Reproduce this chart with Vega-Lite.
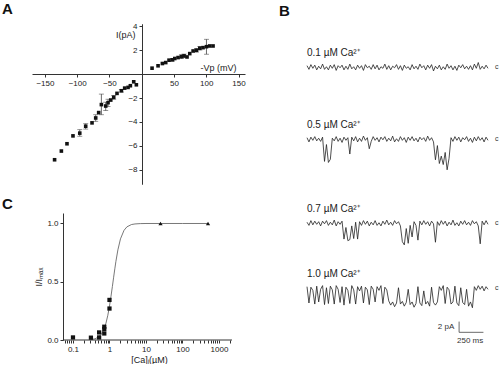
{
  "$schema": "https://vega.github.io/schema/vega-lite/v6.json",
  "padding": {"left": 2, "top": 2, "right": 0, "bottom": 0},
  "background": "white",
  "config": {
    "font": "Liberation Sans",
    "view": {"stroke": null},
    "axis": {"grid": false, "domainColor": "#333", "tickColor": "#333", "labelColor": "#222", "labelFontSize": 8, "titleFontSize": 9, "titleFontWeight": "normal", "titleColor": "#222", "tickSize": 3, "labelPadding": 2, "labelOverlap": false, "labelFlush": false},
    "title": {"fontSize": 15, "fontWeight": "bold", "anchor": "start", "color": "#111", "frame": "group"}
  },
  "datasets": {
    "iv": [
      {"v": -135, "i": -7.17}, {"v": -124.5, "i": -6.44}, {"v": -115.8, "i": -5.83}, {"v": -106.5, "i": -5.17}, {"v": -96, "i": -4.94},
      {"v": -86.8, "i": -4.36}, {"v": -77, "i": -4.08}, {"v": -71.3, "i": -3.67}, {"v": -66.7, "i": -3.22}, {"v": -62.5, "i": -2.55},
      {"v": -55.8, "i": -2.67}, {"v": -52.2, "i": -2.39}, {"v": -48, "i": -2.17}, {"v": -43.4, "i": -1.94}, {"v": -38.3, "i": -1.61},
      {"v": -31.5, "i": -1.39}, {"v": -26.4, "i": -1.17}, {"v": -21.2, "i": -1.11}, {"v": -17.6, "i": -0.97}, {"v": -12.4, "i": -0.64},
      {"v": -8.3, "i": -0.89},
      {"v": 16, "i": 0.5}, {"v": 25.3, "i": 0.7}, {"v": 32, "i": 0.89}, {"v": 37.2, "i": 0.97}, {"v": 42.3, "i": 1.17},
      {"v": 47.5, "i": 1.2}, {"v": 51.2, "i": 1.31}, {"v": 56.3, "i": 1.39}, {"v": 61.5, "i": 1.47}, {"v": 65.6, "i": 1.53},
      {"v": 70.2, "i": 1.44}, {"v": 74.4, "i": 1.72}, {"v": 79.6, "i": 1.94}, {"v": 84.8, "i": 2.0}, {"v": 90, "i": 2.17},
      {"v": 95, "i": 2.22}, {"v": 100.3, "i": 2.3}, {"v": 105.4, "i": 2.36}, {"v": 110.5, "i": 2.36}
    ],
    "iv_err": [
      {"v": -96, "lo": -5.2, "hi": -4.65}, {"v": -86.8, "lo": -4.6, "hi": -4.15}, {"v": -71.3, "lo": -3.95, "hi": -3.4},
      {"v": -62.5, "lo": -3.4, "hi": -1.67}, {"v": -55.8, "lo": -3.05, "hi": -2.35}, {"v": -52.2, "lo": -2.7, "hi": -2.1},
      {"v": -43.4, "lo": -2.1, "hi": -1.78}, {"v": -31.5, "lo": -1.5, "hi": -1.28},
      {"v": 47.5, "lo": 1.1, "hi": 1.3}, {"v": 61.5, "lo": 1.3, "hi": 1.62}, {"v": 65.6, "lo": 1.38, "hi": 1.68},
      {"v": 84.8, "lo": 1.85, "hi": 2.15}, {"v": 90, "lo": 2.02, "hi": 2.32}, {"v": 100.3, "lo": 1.67, "hi": 2.92}
    ],
    "fit": [
      {"ca": 0.3, "f": 0.003}, {"ca": 0.4, "f": 0.010}, {"ca": 0.5, "f": 0.025}, {"ca": 0.6, "f": 0.050}, {"ca": 0.7, "f": 0.090},
      {"ca": 0.8, "f": 0.144}, {"ca": 0.9, "f": 0.212}, {"ca": 1.0, "f": 0.291}, {"ca": 1.1, "f": 0.375}, {"ca": 1.2, "f": 0.459},
      {"ca": 1.3, "f": 0.539}, {"ca": 1.4, "f": 0.611}, {"ca": 1.5, "f": 0.675}, {"ca": 1.7, "f": 0.774}, {"ca": 2.0, "f": 0.868},
      {"ca": 2.5, "f": 0.941}, {"ca": 3, "f": 0.971}, {"ca": 4, "f": 0.991}, {"ca": 5, "f": 0.996}, {"ca": 7, "f": 0.999},
      {"ca": 10, "f": 1.0}, {"ca": 25, "f": 1.0}, {"ca": 100, "f": 1.0}, {"ca": 500, "f": 1.0}
    ],
    "doseresp": [
      {"ca": 0.1, "f": 0.022, "group": "titration"}, {"ca": 0.31, "f": 0.02, "group": "titration"},
      {"ca": 0.52, "f": 0.065, "group": "titration"}, {"ca": 0.52, "f": 0.022, "group": "titration"},
      {"ca": 0.72, "f": 0.114, "group": "titration"}, {"ca": 0.72, "f": 0.094, "group": "titration"}, {"ca": 0.72, "f": 0.056, "group": "titration"},
      {"ca": 1.0, "f": 0.344, "group": "titration"}, {"ca": 1.0, "f": 0.27, "group": "titration"},
      {"ca": 25, "f": 1.0, "group": "saturating"}, {"ca": 500, "f": 1.0, "group": "saturating"}
    ],
    "tr01": [
      {"t":0,"i":0.3},{"t":20,"i":-0.4},{"t":40,"i":0.5},{"t":60,"i":-0.2},{"t":80,"i":0.4},{"t":100,"i":-0.5},{"t":120,"i":0.2},{"t":140,"i":-0.3},{"t":160,"i":0.6},{"t":180,"i":-0.4},
      {"t":200,"i":0.1},{"t":220,"i":-0.5},{"t":240,"i":0.4},{"t":260,"i":-0.2},{"t":280,"i":0.5},{"t":300,"i":-0.6},{"t":320,"i":0.3},{"t":340,"i":-0.1},{"t":360,"i":0.4},{"t":380,"i":-0.5},
      {"t":400,"i":0.2},{"t":420,"i":-0.4},{"t":440,"i":0.6},{"t":460,"i":-0.3},{"t":480,"i":0.1},{"t":500,"i":-0.5},{"t":520,"i":0.4},{"t":540,"i":-0.2},{"t":560,"i":0.3},{"t":580,"i":-0.6},
      {"t":600,"i":0.5},{"t":620,"i":-0.1},{"t":640,"i":0.2},{"t":660,"i":-0.4},{"t":680,"i":0.5},{"t":700,"i":-0.3},{"t":720,"i":0.4},{"t":740,"i":-0.5},{"t":760,"i":0.1},{"t":780,"i":-0.2},
      {"t":800,"i":0.6},{"t":820,"i":-0.4},{"t":840,"i":0.3},{"t":860,"i":-0.5},{"t":880,"i":0.2},{"t":900,"i":-0.1},{"t":920,"i":0.5},{"t":940,"i":-0.4},{"t":960,"i":0.3},{"t":980,"i":-0.6},
      {"t":1000,"i":0.4},{"t":1020,"i":-0.2},{"t":1040,"i":0.1},{"t":1060,"i":-0.5},{"t":1080,"i":0.5},{"t":1100,"i":-0.3},{"t":1120,"i":0.2},{"t":1140,"i":-0.4},{"t":1160,"i":0.6},{"t":1180,"i":-0.1},
      {"t":1200,"i":0.3},{"t":1220,"i":-0.5},{"t":1240,"i":0.4},{"t":1260,"i":-0.2},{"t":1280,"i":0.5},{"t":1300,"i":-0.7},{"t":1320,"i":0.2},{"t":1340,"i":-0.3},{"t":1360,"i":0.4},{"t":1380,"i":-0.5},
      {"t":1400,"i":0.1},{"t":1420,"i":-0.4},{"t":1440,"i":0.6},{"t":1460,"i":-0.2},{"t":1480,"i":0.3},{"t":1500,"i":-0.5},{"t":1520,"i":0.2},{"t":1540,"i":-0.6},{"t":1560,"i":0.4},{"t":1580,"i":-0.1},
      {"t":1600,"i":0.5},{"t":1620,"i":-0.3},{"t":1640,"i":0.2},{"t":1660,"i":-0.4},{"t":1680,"i":0.3},{"t":1700,"i":-0.5},{"t":1720,"i":0.6},{"t":1740,"i":-0.2},{"t":1760,"i":0.9},{"t":1780,"i":-0.4},
      {"t":1800,"i":0.2},{"t":1820,"i":-0.3},{"t":1840,"i":0.4},{"t":1860,"i":-0.2}
    ],
    "tr05": [
      {"t":0,"i":0.3},{"t":20,"i":-0.5},{"t":40,"i":0.4},{"t":60,"i":-0.2},{"t":80,"i":0.5},{"t":100,"i":-0.3},{"t":120,"i":0.2},{"t":140,"i":-0.4},{"t":160,"i":0.4},
      {"t":180,"i":-4.2},{"t":200,"i":-1.0},{"t":220,"i":-4.4},{"t":240,"i":-3.8},{"t":260,"i":0.2},
      {"t":280,"i":-0.3},{"t":300,"i":0.5},{"t":320,"i":-0.4},{"t":340,"i":0.2},{"t":360,"i":-0.6},{"t":380,"i":0.4},{"t":400,"i":-0.2},{"t":420,"i":0.3},
      {"t":440,"i":-2.8},
      {"t":460,"i":0.4},{"t":480,"i":-0.3},{"t":500,"i":0.5},{"t":520,"i":-0.5},{"t":540,"i":0.2},{"t":560,"i":-0.4},{"t":580,"i":0.6},{"t":600,"i":-0.2},{"t":620,"i":0.3},
      {"t":640,"i":-1.8},
      {"t":660,"i":-0.4},{"t":680,"i":0.5},{"t":700,"i":-0.2},{"t":720,"i":0.3},{"t":740,"i":-0.5},{"t":760,"i":0.4},{"t":780,"i":-0.1},{"t":800,"i":0.5},{"t":820,"i":-0.4},{"t":840,"i":0.2},
      {"t":860,"i":-0.3},{"t":880,"i":0.6},{"t":900,"i":-0.5},{"t":920,"i":0.1},{"t":940,"i":-0.4},{"t":960,"i":0.5},{"t":980,"i":-0.2},{"t":1000,"i":0.3},{"t":1020,"i":-0.6},{"t":1040,"i":0.4},
      {"t":1060,"i":-0.2},{"t":1080,"i":0.5},{"t":1100,"i":-0.3},{"t":1120,"i":0.2},{"t":1140,"i":-0.5},{"t":1160,"i":0.4},{"t":1180,"i":-0.1},{"t":1200,"i":0.3},{"t":1220,"i":-0.4},{"t":1240,"i":0.6},
      {"t":1260,"i":-0.2},{"t":1280,"i":0.3},
      {"t":1300,"i":-0.5},{"t":1320,"i":-3.9},{"t":1340,"i":-1.2},{"t":1360,"i":-4.6},{"t":1380,"i":-3.2},{"t":1400,"i":-4.8},{"t":1420,"i":-2.5},{"t":1440,"i":-5.8},{"t":1460,"i":-3.6},{"t":1480,"i":0.3},
      {"t":1500,"i":-0.4},{"t":1520,"i":0.5},{"t":1540,"i":-0.2},{"t":1560,"i":0.4},{"t":1580,"i":-0.5},{"t":1600,"i":0.3},{"t":1620,"i":-0.1},{"t":1640,"i":0.5},{"t":1660,"i":-0.4},{"t":1680,"i":0.2},
      {"t":1700,"i":-0.6},{"t":1720,"i":0.4},{"t":1740,"i":-0.3},{"t":1760,"i":0.5},{"t":1780,"i":-0.2},{"t":1800,"i":0.3},{"t":1820,"i":-0.5},{"t":1840,"i":0.4},{"t":1860,"i":-0.2}
    ],
    "tr07": [
      {"t":0,"i":0.2},{"t":20,"i":-0.4},{"t":40,"i":0.5},{"t":60,"i":-0.3},{"t":80,"i":0.4},{"t":100,"i":-0.2},{"t":120,"i":0.3},{"t":140,"i":-0.5},{"t":160,"i":0.4},{"t":180,"i":-0.1},
      {"t":200,"i":0.5},{"t":220,"i":-0.4},{"t":240,"i":0.2},{"t":260,"i":-0.3},{"t":280,"i":0.6},{"t":300,"i":-0.5},{"t":320,"i":0.3},{"t":340,"i":-0.2},{"t":360,"i":0.4},
      {"t":380,"i":-3.0},{"t":400,"i":-0.8},{"t":420,"i":-3.3},{"t":440,"i":-3.1},{"t":460,"i":-0.5},{"t":480,"i":-2.9},{"t":500,"i":0.2},{"t":520,"i":-3.0},
      {"t":540,"i":0.3},{"t":560,"i":-0.4},{"t":580,"i":0.5},{"t":600,"i":-0.2},{"t":620,"i":0.4},{"t":640,"i":-0.5},{"t":660,"i":0.2},{"t":680,"i":-0.3},{"t":700,"i":0.5},{"t":720,"i":-0.4},
      {"t":740,"i":0.1},{"t":760,"i":-0.5},{"t":780,"i":0.4},{"t":800,"i":-0.2},{"t":820,"i":0.6},{"t":840,"i":-0.3},{"t":860,"i":0.2},{"t":880,"i":-0.4},{"t":900,"i":0.5},{"t":920,"i":-0.1},
      {"t":940,"i":0.3},{"t":960,"i":-0.5},
      {"t":980,"i":-3.5},{"t":1000,"i":-4.1},{"t":1020,"i":-1.0},{"t":1040,"i":-3.8},{"t":1060,"i":-0.4},{"t":1080,"i":-2.6},{"t":1100,"i":0.3},{"t":1120,"i":-0.4},{"t":1140,"i":-3.2},
      {"t":1160,"i":0.4},{"t":1180,"i":-0.3},{"t":1200,"i":0.5},{"t":1220,"i":-0.2},{"t":1240,"i":0.3},{"t":1260,"i":-0.5},{"t":1280,"i":0.4},{"t":1300,"i":-0.1},
      {"t":1320,"i":-3.6},
      {"t":1340,"i":0.3},{"t":1360,"i":-0.4},{"t":1380,"i":0.5},{"t":1400,"i":-0.2},{"t":1420,"i":0.4},{"t":1440,"i":-0.5},{"t":1460,"i":0.2},{"t":1480,"i":-0.3},{"t":1500,"i":0.6},{"t":1520,"i":-0.4},
      {"t":1540,"i":0.1},{"t":1560,"i":-0.5},{"t":1580,"i":0.4},{"t":1600,"i":-0.2},{"t":1620,"i":0.5},{"t":1640,"i":-0.3},{"t":1660,"i":0.2},{"t":1680,"i":-0.4},{"t":1700,"i":0.5},{"t":1720,"i":-0.1},
      {"t":1740,"i":0.3},{"t":1760,"i":-0.5},
      {"t":1780,"i":-3.9},{"t":1800,"i":0.4},{"t":1820,"i":-0.3},{"t":1840,"i":0.5},{"t":1860,"i":-0.2}
    ],
    "tr10": [
      {"t":0,"i":0.3},{"t":20,"i":-2.8},{"t":40,"i":0.2},{"t":60,"i":-0.4},{"t":80,"i":-3.0},{"t":100,"i":0.4},{"t":120,"i":-2.6},{"t":140,"i":-0.2},{"t":160,"i":0.5},{"t":180,"i":-3.1},
      {"t":200,"i":0.1},{"t":220,"i":-2.9},{"t":240,"i":0.4},{"t":260,"i":-0.3},{"t":280,"i":-3.0},{"t":300,"i":0.5},{"t":320,"i":-0.2},{"t":340,"i":-2.7},{"t":360,"i":0.3},{"t":380,"i":-3.2},
      {"t":400,"i":0.2},{"t":420,"i":-0.4},{"t":440,"i":-2.9},{"t":460,"i":0.5},{"t":480,"i":-0.3},{"t":500,"i":-3.0},{"t":520,"i":0.3},{"t":540,"i":-0.5},{"t":560,"i":0.4},{"t":580,"i":-2.8},
      {"t":600,"i":0.2},{"t":620,"i":-0.3},{"t":640,"i":-3.1},{"t":660,"i":0.4},{"t":680,"i":-0.2},{"t":700,"i":-2.6},{"t":720,"i":0.3},{"t":740,"i":-0.4},{"t":760,"i":0.5},{"t":780,"i":-2.9},
      {"t":800,"i":0.2},{"t":820,"i":-0.3},{"t":840,"i":-2.4},{"t":860,"i":-3.2},{"t":880,"i":-2.6},{"t":900,"i":-3.5},{"t":920,"i":-2.8},{"t":940,"i":0.1},{"t":960,"i":-3.0},{"t":980,"i":-2.5},
      {"t":1000,"i":-3.4},{"t":1020,"i":-2.7},{"t":1040,"i":-0.2},{"t":1060,"i":-3.1},{"t":1080,"i":-2.6},{"t":1100,"i":-3.6},{"t":1120,"i":-2.9},{"t":1140,"i":0.3},{"t":1160,"i":-2.8},{"t":1180,"i":-3.3},
      {"t":1200,"i":-0.5},{"t":1220,"i":-3.0},{"t":1240,"i":-2.5},{"t":1260,"i":-3.4},{"t":1280,"i":0.2},{"t":1300,"i":-2.7},{"t":1320,"i":-3.2},{"t":1340,"i":-2.6},{"t":1360,"i":0.3},{"t":1380,"i":-0.4},
      {"t":1400,"i":0.5},{"t":1420,"i":-2.9},{"t":1440,"i":0.2},{"t":1460,"i":-0.3},{"t":1480,"i":-3.0},{"t":1500,"i":-2.6},{"t":1520,"i":0.4},{"t":1540,"i":-2.8},{"t":1560,"i":-3.3},{"t":1580,"i":0.1},
      {"t":1600,"i":-2.7},{"t":1620,"i":-3.1},{"t":1640,"i":-0.2},{"t":1660,"i":-3.4},{"t":1680,"i":-2.6},{"t":1700,"i":-3.7},{"t":1720,"i":0.3},{"t":1740,"i":-0.4},{"t":1760,"i":0.5},{"t":1780,"i":-0.2},
      {"t":1800,"i":0.4},{"t":1820,"i":-0.5},{"t":1840,"i":0.3},{"t":1860,"i":-0.2}
    ]
  },
  "spacing": 33,
  "hconcat": [
    {
      "spacing": 13,
      "vconcat": [
        {
          "width": 213, "height": 160,
          "title": {"text": "A", "dx": -30, "offset": 5},
          "resolve": {"axis": {"y": "independent"}},
          "layer": [
            {"data": {"name": "iv_err"}, "mark": {"type": "rule", "color": "#444", "strokeWidth": 0.8},
             "encoding": {"x": {"field": "v", "type": "quantitative", "scale": {"domain": [-170, 160], "nice": false, "zero": false}},
                          "y": {"field": "lo", "type": "quantitative", "scale": {"domain": [-9.2, 4.2], "nice": false, "zero": false},
                                "axis": {"orient": "left", "offset": -110, "values": [-6, -2, 2], "labelOverlap": false, "title": null}},
                          "y2": {"field": "hi"}}},
            {"data": {"name": "iv_err"}, "mark": {"type": "tick", "orient": "horizontal", "color": "#444", "size": 5, "thickness": 0.8},
             "encoding": {"x": {"field": "v", "type": "quantitative", "scale": {"domain": [-170, 160], "nice": false, "zero": false}},
                          "y": {"field": "lo", "type": "quantitative", "scale": {"domain": [-9.2, 4.2], "nice": false, "zero": false}, "axis": null}}},
            {"data": {"name": "iv_err"}, "mark": {"type": "tick", "orient": "horizontal", "color": "#444", "size": 5, "thickness": 0.8},
             "encoding": {"x": {"field": "v", "type": "quantitative", "scale": {"domain": [-170, 160], "nice": false, "zero": false}},
                          "y": {"field": "hi", "type": "quantitative", "scale": {"domain": [-9.2, 4.2], "nice": false, "zero": false}, "axis": null}}},
            {"data": {"name": "iv"}, "mark": {"type": "square", "color": "#111", "size": 13, "opacity": 1},
             "encoding": {
               "x": {"field": "v", "type": "quantitative", "scale": {"domain": [-170, 160], "nice": false, "zero": false},
                     "axis": {"offset": -110, "values": [-150, -100, -50, 50, 100, 150], "labelOverlap": false,
                              "title": "-Vp (mV)", "titleX": 186, "titleY": -7, "titleAlign": "center", "titleBaseline": "middle"}},
               "y": {"field": "i", "type": "quantitative", "scale": {"domain": [-9.2, 4.2], "nice": false, "zero": false},
                     "axis": {"orient": "left", "offset": -110, "values": [-8, -4, 4], "labelOverlap": false,
                              "title": "I(pA)", "titleAngle": 0, "titleX": -7, "titleY": 10, "titleAlign": "right", "titleBaseline": "middle"}}
             }}
          ]
        },
        {
          "width": 200, "height": 127,
          "title": {"text": "C", "dx": -30, "offset": 1},
          "layer": [
            {"data": {"values": [{"ca": 0.053, "ca_end": 2270, "f": 0}]}, "mark": {"type": "rule", "color": "#333", "strokeWidth": 1},
             "encoding": {
               "x": {"field": "ca", "type": "quantitative", "scale": {"type": "log", "domain": [0.00754, 2270], "nice": false}},
               "x2": {"field": "ca_end"},
               "y": {"field": "f", "type": "quantitative", "scale": {"domain": [0, 1.09], "nice": false, "zero": false}}
             }},
            {"data": {"name": "fit"}, "mark": {"type": "line", "color": "#555", "strokeWidth": 0.8},
             "encoding": {
               "x": {"field": "ca", "type": "quantitative", "scale": {"type": "log", "domain": [0.00754, 2270], "nice": false},
                     "axis": {"domain": false, "values": [0.06, 0.07, 0.08, 0.09, 0.1, 0.2, 0.3, 0.4, 0.5, 0.6, 0.7, 0.8, 0.9, 1, 2, 3, 4, 5, 6, 7, 8, 9, 10, 20, 30, 40, 50, 60, 70, 80, 90, 100, 200, 300, 400, 500, 600, 700, 800, 900, 1000, 2000],
                              "format": "~g", "labelOverlap": false,
                              "labelExpr": "datum.value == 0.1 || datum.value == 1 || datum.value == 10 || datum.value == 100 || datum.value == 1000 ? datum.label : ''",
                              "title": "[Ca]ᵢ(µM)", "titlePadding": 2, "titleX": 117, "titleAlign": "center"}},
               "y": {"field": "f", "type": "quantitative", "scale": {"domain": [0, 1.09], "nice": false, "zero": false},
                     "axis": {"offset": -31, "values": [0, 0.25, 0.5, 0.75, 1], "format": ".1f", "labelOverlap": false,
                              "labelExpr": "datum.value == 0.25 || datum.value == 0.75 ? '' : datum.label",
                              "title": "I/Iₘₐₓ", "titlePadding": 3}}
             }},
            {"data": {"name": "doseresp"}, "mark": {"type": "point", "filled": true, "opacity": 1, "color": "#111", "size": 18},
             "encoding": {
               "x": {"field": "ca", "type": "quantitative", "scale": {"type": "log", "domain": [0.00754, 2270], "nice": false}},
               "y": {"field": "f", "type": "quantitative", "scale": {"domain": [0, 1.09], "nice": false, "zero": false}},
               "shape": {"field": "group", "type": "nominal", "scale": {"domain": ["titration", "saturating"], "range": ["square", "triangle-up"]}, "legend": null}
             }}
          ]
        }
      ]
    },
    {
      "spacing": 16,
      "vconcat": [
        {
          "width": 181, "height": 80,
          "title": {"text": "B", "dx": -28, "offset": 5},
          "encoding": {
            "x": {"field": "t", "type": "quantitative", "scale": {"domain": [0, 1860], "nice": false, "zero": false}, "axis": null},
            "y": {"field": "i", "type": "quantitative", "scale": {"domain": [-7, 8.24], "nice": false, "zero": false}, "axis": null}
          },
          "layer": [
            {"data": {"name": "tr01"}, "mark": {"type": "line", "color": "#222", "strokeWidth": 0.8}},
            {"data": {"values": [{"t": 0, "i": 2.66, "lab": "0.1 µM Ca²⁺"}]}, "mark": {"type": "text", "align": "left", "baseline": "middle", "fontSize": 10, "color": "#222"}, "encoding": {"text": {"field": "lab"}}},
            {"data": {"values": [{"t": 1950, "i": 0, "lab": "c"}]}, "mark": {"type": "text", "align": "center", "baseline": "middle", "fontSize": 7, "color": "#333"}, "encoding": {"text": {"field": "lab"}}}
          ]
        },
        {
          "width": 181, "height": 54,
          "encoding": {
            "x": {"field": "t", "type": "quantitative", "scale": {"domain": [0, 1860], "nice": false, "zero": false}, "axis": null},
            "y": {"field": "i", "type": "quantitative", "scale": {"domain": [-9.25, 1], "nice": false, "zero": false}, "axis": null}
          },
          "layer": [
            {"data": {"name": "tr05"}, "mark": {"type": "line", "color": "#222", "strokeWidth": 0.8}},
            {"data": {"values": [{"t": 0, "i": 2.66, "lab": "0.5 µM Ca²⁺"}]}, "mark": {"type": "text", "align": "left", "baseline": "middle", "fontSize": 10, "color": "#222"}, "encoding": {"text": {"field": "lab"}}},
            {"data": {"values": [{"t": 1950, "i": 0, "lab": "c"}]}, "mark": {"type": "text", "align": "center", "baseline": "middle", "fontSize": 7, "color": "#333"}, "encoding": {"text": {"field": "lab"}}}
          ]
        },
        {
          "width": 181, "height": 35,
          "encoding": {
            "x": {"field": "t", "type": "quantitative", "scale": {"domain": [0, 1860], "nice": false, "zero": false}, "axis": null},
            "y": {"field": "i", "type": "quantitative", "scale": {"domain": [-5.64, 1], "nice": false, "zero": false}, "axis": null}
          },
          "layer": [
            {"data": {"name": "tr07"}, "mark": {"type": "line", "color": "#222", "strokeWidth": 0.8}},
            {"data": {"values": [{"t": 0, "i": 2.66, "lab": "0.7 µM Ca²⁺"}]}, "mark": {"type": "text", "align": "left", "baseline": "middle", "fontSize": 10, "color": "#222"}, "encoding": {"text": {"field": "lab"}}},
            {"data": {"values": [{"t": 1950, "i": 0, "lab": "c"}]}, "mark": {"type": "text", "align": "center", "baseline": "middle", "fontSize": 7, "color": "#333"}, "encoding": {"text": {"field": "lab"}}}
          ]
        },
        {
          "width": 181, "height": 50,
          "encoding": {
            "x": {"field": "t", "type": "quantitative", "scale": {"domain": [0, 1860], "nice": false, "zero": false}, "axis": null},
            "y": {"field": "i", "type": "quantitative", "scale": {"domain": [-8.5, 1], "nice": false, "zero": false}, "axis": null}
          },
          "layer": [
            {"data": {"name": "tr10"}, "mark": {"type": "line", "color": "#222", "strokeWidth": 0.8}},
            {"data": {"values": [{"t": 0, "i": 2.66, "lab": "1.0 µM Ca²⁺"}]}, "mark": {"type": "text", "align": "left", "baseline": "middle", "fontSize": 10, "color": "#222"}, "encoding": {"text": {"field": "lab"}}},
            {"data": {"values": [{"t": 1950, "i": 0, "lab": "c"}]}, "mark": {"type": "text", "align": "center", "baseline": "middle", "fontSize": 7, "color": "#333"}, "encoding": {"text": {"field": "lab"}}},
            {"data": {"values": [{"t": 1563, "t2": 1563, "i": -6.33, "i2": -8.37}, {"t": 1563, "t2": 1813, "i": -8.37, "i2": -8.37}]},
             "mark": {"type": "rule", "color": "#444", "strokeWidth": 0.8},
             "encoding": {"x2": {"field": "t2"}, "y2": {"field": "i2"}}},
            {"data": {"values": [{"t": 1429, "i": -7.4, "lab": "2 pA"}, {"t": 1676, "i": -10.1, "lab": "250 ms"}]},
             "mark": {"type": "text", "align": "center", "baseline": "middle", "fontSize": 8, "color": "#333"}, "encoding": {"text": {"field": "lab"}}}
          ]
        }
      ]
    }
  ]
}
